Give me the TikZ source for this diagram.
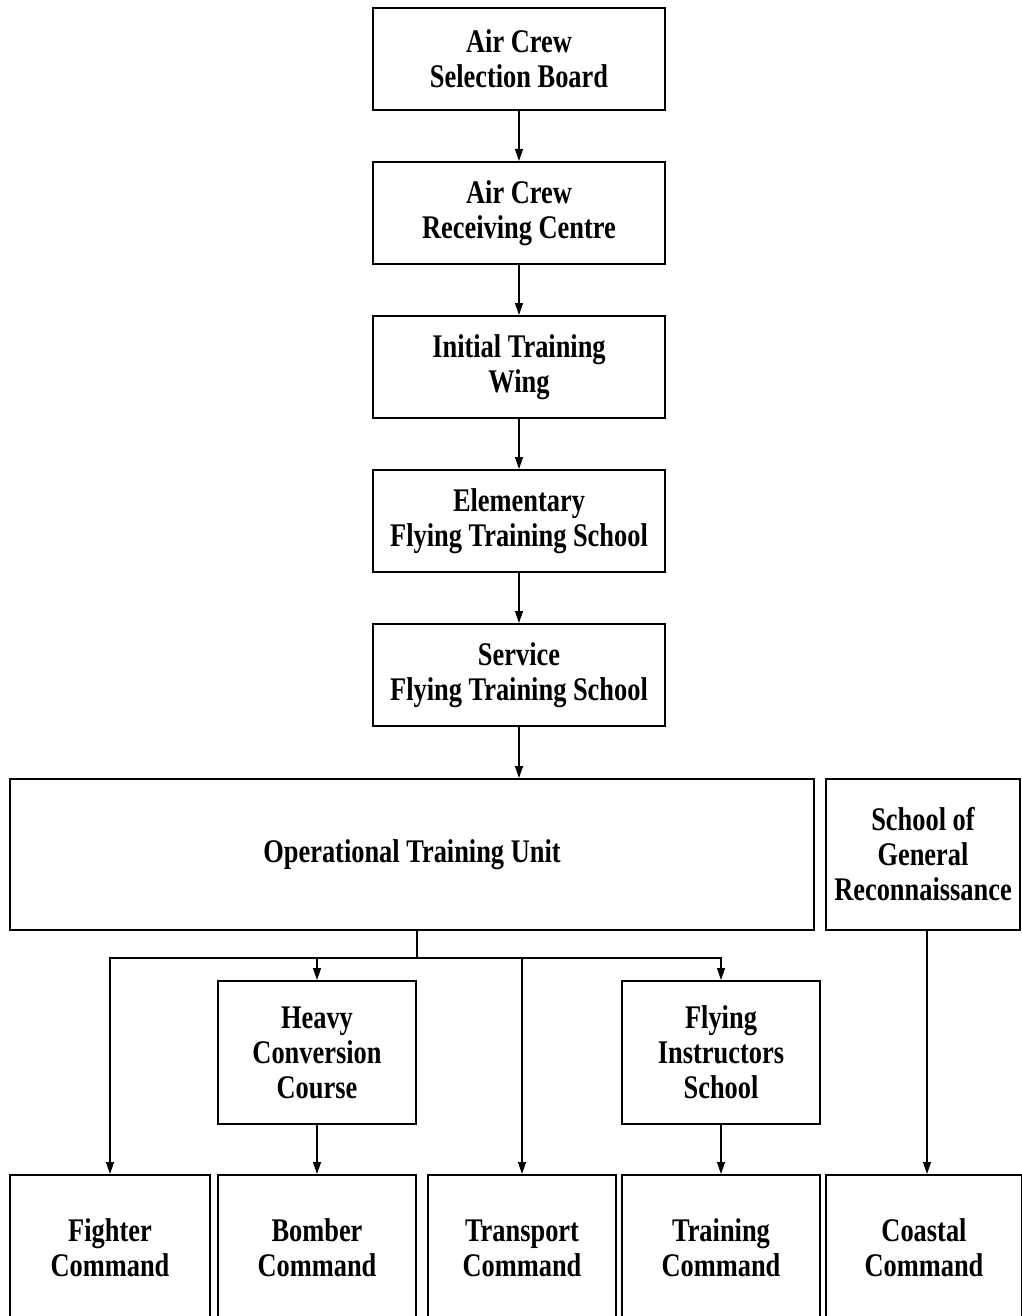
\documentclass[tikz,border=0pt]{standalone}
\usepackage{fontspec}
\setmainfont{Liberation Serif}[FakeStretch=0.8]
\usepackage{tikz}
\usetikzlibrary{arrows.meta}
\definecolor{bg}{HTML}{FFFFFF}
\definecolor{ink}{HTML}{000000}
\begin{document}
\begin{tikzpicture}[x=1pt,y=-1pt,
  unitbox/.style={draw=ink, line width=2pt, fill=bg, text=ink, align=center,
    inner sep=0pt, font=\bfseries\fontsize{33}{35}\selectfont},
  arr/.style={-{Triangle[length=12pt,width=8pt]}, color=ink, line width=1.3pt}]
\useasboundingbox[fill=bg] (0,0) rectangle (1021,1316);
% training pipeline
\node[unitbox, minimum width=292, minimum height=102] (sel) at (519,59) {Air Crew\\Selection Board};
\node[unitbox, minimum width=292, minimum height=102] (rec) at (519,213) {Air Crew\\Receiving Centre};
\node[unitbox, minimum width=292, minimum height=102] (itw) at (519,367) {Initial Training\\Wing};
\node[unitbox, minimum width=292, minimum height=102] (efts) at (519,521) {Elementary\\Flying Training School};
\node[unitbox, minimum width=292, minimum height=102] (sfts) at (519,675) {Service\\Flying Training School};
\node[unitbox, minimum width=804, minimum height=151] (otu) at (412,854.5) {Operational Training Unit};
\node[unitbox, minimum width=194, minimum height=151] (sgr) at (923,854.5) {School of\\General\\Reconnaissance};
\node[unitbox, minimum width=198, minimum height=143] (hcc) at (317,1052.5) {Heavy\\Conversion\\Course};
\node[unitbox, minimum width=198, minimum height=143] (fis) at (721,1052.5) {Flying\\Instructors\\School};
% commands
\node[unitbox, minimum width=200, minimum height=146] (fighter) at (110,1248) {Fighter\\Command};
\node[unitbox, minimum width=198, minimum height=146] (bomber) at (317,1248) {Bomber\\Command};
\node[unitbox, minimum width=188, minimum height=146] (transport) at (522,1248) {Transport\\Command};
\node[unitbox, minimum width=198, minimum height=146] (training) at (721,1248) {Training\\Command};
\node[unitbox, minimum width=196, minimum height=146] (coastal) at (924,1248) {Coastal\\Command};
% arrows
\foreach \a/\b in {sel/rec,rec/itw,itw/efts,efts/sfts,hcc/bomber,fis/training}{
  \draw[arr] (\a) -- (\b);
}
\draw[arr] (sfts) -- (sfts |- otu.north);
\coordinate (sgrdrop) at (927,930);
\draw[arr] (sgrdrop) -- (sgrdrop |- coastal.north);
\coordinate (split) at (417,958);
\draw[color=ink, line width=1.3pt] (split |- otu.south) -- (split);
\foreach \t in {fighter,hcc,transport,fis}{
  \draw[arr] (split) -| (\t);
}
\end{tikzpicture}
\end{document}
